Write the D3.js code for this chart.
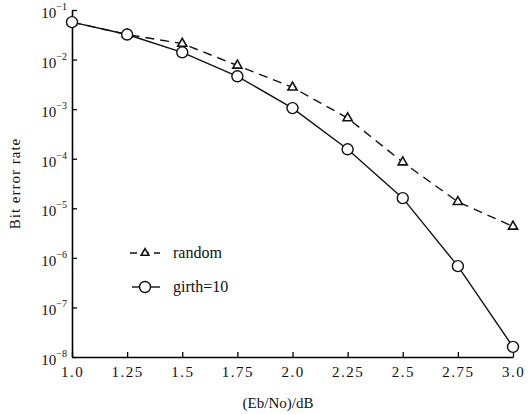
<!DOCTYPE html>
<html>
<head>
<meta charset="utf-8">
<script src="https://cdn.jsdelivr.net/npm/d3@7"></script>
<style>
  body { margin: 0; background: #fff; }
  text { font-family: "Liberation Serif", "DejaVu Serif", serif; fill: #111; }
</style>
</head>
<body>
<div id="chart"></div>
<script>
// Eb/No values (dB)
const ebno = [1.0, 1.25, 1.5, 1.75, 2.0, 2.25, 2.5, 2.75, 3.0]
const xTickLabels = ["1.0", "1.25", "1.5", "1.75", "2.0", "2.25", "2.5", "2.75", "3.0"]
const berRandom = [5.7e-2, 3.2e-2, 2.1e-2, 7.6e-3, 2.75e-3, 6.6e-4, 8.5e-5, 1.35e-5, 4.3e-6]
const berGirth = [5.7e-2, 3.2e-2, 1.4e-2, 4.6e-3, 1.05e-3, 1.55e-4, 1.6e-5, 6.8e-7, 1.6e-8]
const yExponents = [-1, -2, -3, -4, -5, -6, -7, -8]

const width = 530
const height = 414
const margin = { top: 10, left: 72, bottom: 57, right: 17 }
const iwidth = width - margin.left - margin.right
const iheight = height - margin.top - margin.bottom

const svg = d3.select("#chart").append("svg")
  .attr("width", width)
  .attr("height", height)

const g = svg.append("g")
  .attr("transform", `translate(${margin.left}, ${margin.top})`)

const x = d3.scaleLinear().domain([1.0, 3.0]).range([0, iwidth])
const y = d3.scaleLog().domain([1e-8, 1e-1]).range([iheight, 0])

// axes (ticks pointing inward)
const xAxis = g.append("g")
  .attr("transform", `translate(0, ${iheight})`)
  .call(d3.axisBottom(x).tickValues(ebno).tickSizeInner(-5).tickSizeOuter(0)
    .tickFormat((d, i) => xTickLabels[i]))
xAxis.select(".domain").attr("stroke-width", 1.6)
xAxis.selectAll("line").attr("stroke-width", 1.3)
xAxis.selectAll("text")
  .attr("font-size", 15)
  .attr("letter-spacing", 1.5)
  .attr("dy", "1.15em")
  .style("font-family", "'Liberation Serif', serif")

const yAxis = g.append("g")
  .call(d3.axisLeft(y).tickValues(yExponents.map(e => Math.pow(10, e))).tickSizeInner(-5).tickSizeOuter(0)
    .tickFormat(""))
yAxis.select(".domain").attr("stroke-width", 1.6)
yAxis.selectAll("line").attr("stroke-width", 1.3)

// y tick labels with superscript exponent
const ylab = g.append("g").selectAll("text")
  .data(yExponents)
  .join("text")
  .attr("x", -5)
  .attr("y", d => y(Math.pow(10, d)) + 8)
  .attr("text-anchor", "end")
  .attr("font-size", 15)
ylab.append("tspan").text("10")
ylab.append("tspan").attr("dy", -8).attr("font-size", 10).text(d => "\u2212" + Math.abs(d))

// lines
const line = d3.line().x(d => x(d[0])).y(d => y(d[1]))

g.append("path")
  .datum(ebno.map((e, i) => [e, berRandom[i]]))
  .attr("fill", "none")
  .attr("stroke", "#111")
  .attr("stroke-width", 1.4)
  .attr("stroke-dasharray", "9,6")
  .attr("d", line)

g.append("path")
  .datum(ebno.map((e, i) => [e, berGirth[i]]))
  .attr("fill", "none")
  .attr("stroke", "#111")
  .attr("stroke-width", 1.4)
  .attr("d", line)

const tri = d3.symbol().type(d3.symbolTriangle).size(36)

g.selectAll(".tri")
  .data(ebno.map((e, i) => [e, berRandom[i]]))
  .join("path")
  .attr("class", "tri")
  .attr("transform", d => `translate(${x(d[0])}, ${y(d[1])})`)
  .attr("d", tri)
  .attr("fill", "#fff")
  .attr("stroke", "#111")
  .attr("stroke-width", 1.6)

g.selectAll(".circ")
  .data(ebno.map((e, i) => [e, berGirth[i]]))
  .join("circle")
  .attr("class", "circ")
  .attr("cx", d => x(d[0]))
  .attr("cy", d => y(d[1]))
  .attr("r", 5.5)
  .attr("fill", "#fff")
  .attr("stroke", "#111")
  .attr("stroke-width", 1.4)

// legend
const legend = svg.append("g").attr("transform", "translate(130, 253)")
legend.append("line")
  .attr("x1", 0).attr("x2", 30).attr("y1", 0).attr("y2", 0)
  .attr("stroke", "#111").attr("stroke-width", 1.4).attr("stroke-dasharray", "7,5")
legend.append("path")
  .attr("transform", "translate(15, 0)")
  .attr("d", d3.symbol().type(d3.symbolTriangle).size(26))
  .attr("fill", "#fff").attr("stroke", "#111").attr("stroke-width", 1.6)
legend.append("text").attr("x", 43).attr("y", 5).attr("font-size", 16).text("random")

legend.append("line")
  .attr("x1", 2).attr("x2", 30).attr("y1", 34).attr("y2", 34)
  .attr("stroke", "#111").attr("stroke-width", 1.4)
legend.append("circle")
  .attr("cx", 15).attr("cy", 34).attr("r", 5.5)
  .attr("fill", "#fff").attr("stroke", "#111").attr("stroke-width", 1.4)
legend.append("text").attr("x", 43).attr("y", 39).attr("font-size", 16).text("girth=10")

// axis titles
svg.append("text")
  .attr("transform", `translate(20, ${margin.top + iheight / 2}) rotate(-90)`)
  .attr("text-anchor", "middle")
  .attr("font-size", 15)
  .attr("letter-spacing", 1)
  .text("Bit error rate")

svg.append("text")
  .attr("x", 278)
  .attr("y", 408)
  .attr("text-anchor", "middle")
  .attr("font-size", 15)
  .text("(Eb/No)/dB")
</script>
</body>
</html>
